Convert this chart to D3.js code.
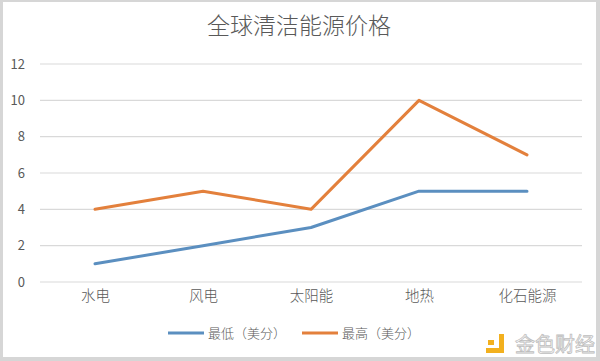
<!DOCTYPE html>
<html><head><meta charset="utf-8">
<script src="https://cdn.jsdelivr.net/npm/d3@7"></script>
<style>body{margin:0;background:#fff}svg{display:block}</style>
</head><body>
<svg id="c" width="600" height="361"></svg>
<script>
const title = "全球清洁能源价格";
const categories = ["水电", "风电", "太阳能", "地热", "化石能源"];
const seriesNames = ["最低（美分）", "最高（美分）"];
const lowValues = [1, 2, 3, 5, 5];
const highValues = [4, 5, 4, 10, 7];
const yTicks = [0, 2, 4, 6, 8, 10, 12];
const colors = ["#5b8fc0", "#e3803c"];

const svg = d3.select("#c");
const font = "'Noto Sans CJK SC', 'Noto Sans', sans-serif";

// frame
svg.append("rect").attr("x", 0).attr("y", 0).attr("width", 600).attr("height", 361).attr("fill", "#d6d6d6");
svg.append("rect").attr("x", 3).attr("y", 2).attr("width", 593).attr("height", 355).attr("fill", "#fff");

const x = d3.scalePoint().domain(categories).range([95, 527]);
const y = d3.scaleLinear().domain([0, 12]).range([282, 64]);

// gridlines
svg.append("g").selectAll("line").data(yTicks).join("line")
  .attr("x1", 40).attr("x2", 582)
  .attr("y1", d => y(d)).attr("y2", d => y(d))
  .attr("stroke", "#d9d9d9").attr("stroke-width", 1.2);

// y axis labels
const yAxis = d3.axisLeft(y).tickValues(yTicks).tickSize(0).tickPadding(0);
const gy = svg.append("g").attr("transform", "translate(25,0)").call(yAxis);
gy.select(".domain").remove();
gy.selectAll("text").attr("font-family", font).attr("font-size", 13).attr("fill", "#595959");

// x axis labels
const xAxis = d3.axisBottom(x).tickSize(0).tickPadding(0);
const gx = svg.append("g").attr("transform", "translate(0,291)").call(xAxis);
gx.select(".domain").remove();
gx.selectAll("text").attr("font-family", font).attr("font-size", 14.5).attr("fill", "#595959").attr("font-weight", 300);

// lines
const line = d3.line().x((d, i) => x(categories[i])).y(d => y(d));
[lowValues, highValues].forEach((vals, k) => {
  svg.append("path").datum(vals).attr("d", line)
    .attr("fill", "none").attr("stroke", colors[k]).attr("stroke-width", 3)
    .attr("stroke-linejoin", "round").attr("stroke-linecap", "round");
});

// title
svg.append("text").attr("x", 299).attr("y", 34).attr("text-anchor", "middle")
  .attr("font-family", font).attr("font-size", 23).attr("font-weight", 300).attr("fill", "#595959").text(title);

// legend
const legX = [168, 302];
seriesNames.forEach((n, k) => {
  svg.append("line").attr("x1", legX[k]).attr("x2", legX[k] + 36).attr("y1", 333).attr("y2", 333)
    .attr("stroke", colors[k]).attr("stroke-width", 3);
  svg.append("text").attr("x", legX[k] + 40).attr("y", 338)
    .attr("font-family", font).attr("font-size", 13).attr("font-weight", 300).attr("fill", "#595959").text(n);
});

// watermark
svg.append("rect").attr("x", 488).attr("y", 340).attr("width", 6).attr("height", 5).attr("fill", "#f2b01e");
svg.append("path").attr("d", "M486,348 L499,348 L499,334 L504,334 L504,353 L486,353 Z").attr("fill", "#f2b01e");
svg.append("text").attr("x", 515).attr("y", 352).attr("font-family", font).attr("font-size", 20)
  .attr("fill", "#fff").attr("stroke", "#bdbdbd").attr("stroke-width", 0.8).text("金色财经");
</script>
</body></html>
